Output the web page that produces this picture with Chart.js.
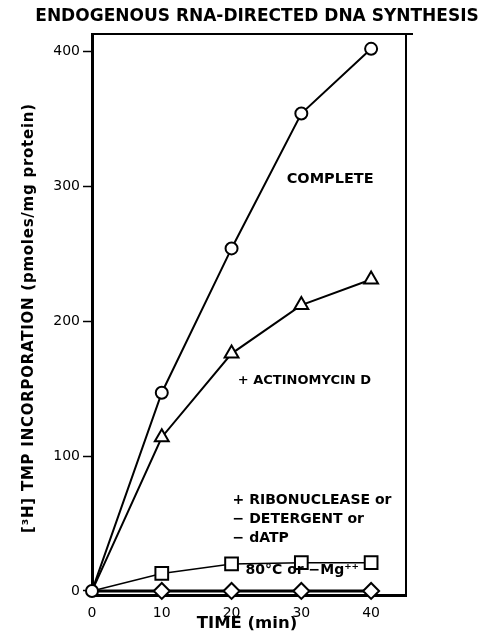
<!DOCTYPE html>
<html lang="en">
<head>
    <meta charset="UTF-8">
    <title>Endogenous RNA-directed DNA synthesis</title>
    <script src="https://cdn.jsdelivr.net/npm/chart.js"></script>
    <style>
        body { margin: 0; background: #fff; }
        #chart { display: block; }
    </style>
</head>
<body>
    <canvas id="chart" width="489" height="639"></canvas>
    <script>
        // time points (min)
        const times = [0, 10, 20, 30, 40];

        // [3H]TMP incorporation, pmoles/mg protein
        const complete = [0, 147, 254, 354, 402];
        const actinomycin = [0, 114, 176, 212, 231];
        const ribonuclease = [0, 13, 20, 21, 21];
        const heated = [0, 0, 0, 0, 0];

        const xTicks = [0, 10, 20, 30, 40];
        const yTicks = [0, 100, 200, 300, 400];

        const titleText = 'ENDOGENOUS RNA-DIRECTED DNA SYNTHESIS';
        const yTitle = '[³H] TMP INCORPORATION (pmoles/mg protein)';
        const xTitle = 'TIME (min)';

        function pts(ys) {
            return times.map((t, i) => ({ x: t, y: ys[i] }));
        }

        // the point at t=0 is only shown for the top (circle) series
        function series(ys, style, radius, width, hideFirst) {
            return {
                data: pts(ys),
                borderColor: '#000',
                backgroundColor: '#fff',
                borderWidth: width,
                pointStyle: style,
                pointRadius: times.map((t, i) => (hideFirst && i === 0) ? 0 : radius),
                pointBorderWidth: 2,
                pointBackgroundColor: '#fff',
                pointBorderColor: '#000',
                tension: 0,
                clip: false
            };
        }

        // text drawn on top: title, axis titles, curve labels, frame
        const textPlugin = {
            id: 'texts',
            afterDraw(chart) {
                const ctx = chart.ctx;
                const a = chart.chartArea;
                const x = chart.scales.x, y = chart.scales.y;
                ctx.save();
                ctx.fillStyle = '#000';
                ctx.strokeStyle = '#000';

                // top and right frame
                ctx.lineWidth = 2;
                ctx.beginPath();
                ctx.moveTo(a.left, a.top);
                ctx.lineTo(a.right + 7, a.top);
                ctx.moveTo(a.right, a.top);
                ctx.lineTo(a.right, a.bottom + 1);
                ctx.stroke();

                ctx.textAlign = 'center';
                ctx.textBaseline = 'middle';
                ctx.font = 'bold 17px "DejaVu Sans"';
                ctx.fillText(titleText, 257, 17);

                ctx.font = 'bold 16.5px "DejaVu Sans"';
                ctx.fillText(xTitle, 247, 624);

                ctx.save();
                ctx.translate(29, 318);
                ctx.rotate(-Math.PI / 2);
                ctx.font = 'bold 15px "DejaVu Sans"';
                ctx.letterSpacing = '0.75px';
                ctx.fillText(yTitle, 0, 0);
                ctx.restore();

                ctx.textAlign = 'left';
                ctx.font = 'bold 14.5px "DejaVu Sans"';
                ctx.fillText('COMPLETE', x.getPixelForValue(27.9), y.getPixelForValue(305));
                ctx.font = 'bold 13px "DejaVu Sans"';
                ctx.fillText('+ ACTINOMYCIN D', x.getPixelForValue(20.9), y.getPixelForValue(156));
                ctx.font = 'bold 14px "DejaVu Sans"';
                ctx.fillText('+ RIBONUCLEASE or', x.getPixelForValue(20.15), y.getPixelForValue(67));
                ctx.fillText('\u2212 DETERGENT or', x.getPixelForValue(20.15), y.getPixelForValue(53));
                ctx.fillText('\u2212 dATP', x.getPixelForValue(20.15), y.getPixelForValue(39));
                ctx.fillText('80°C or \u2212Mg⁺⁺', x.getPixelForValue(22), y.getPixelForValue(15));
                ctx.restore();
            }
        };

        const ctx = document.getElementById('chart').getContext('2d');
        const chart = new Chart(ctx, {
            type: 'line',
            data: {
                datasets: [
                    series(complete, 'circle', 6, 2, false),
                    series(actinomycin, 'triangle', 8, 2, true),
                    series(ribonuclease, 'rect', 9, 1.5, true),
                    series(heated, 'rectRot', 8, 3, true)
                ]
            },
            options: {
                responsive: false,
                animation: false,
                layout: { padding: { left: 0, right: 83, top: 34, bottom: 0 } },
                plugins: {
                    legend: { display: false },
                    tooltip: { enabled: false }
                },
                scales: {
                    x: {
                        type: 'linear',
                        min: 0,
                        max: 45,
                        afterFit(s) { s.height = 44; },
                        afterBuildTicks(s) { s.ticks = xTicks.map(v => ({ value: v })); },
                        grid: { drawOnChartArea: false, drawTicks: false },
                        border: { display: true, color: '#000', width: 3 },
                        ticks: {
                            color: '#000',
                            padding: 10,
                            maxRotation: 0,
                            font: { family: 'DejaVu Sans', size: 14 }
                        }
                    },
                    y: {
                        min: -3,
                        max: 413,
                        afterFit(s) { s.width = 92; },
                        afterBuildTicks(s) { s.ticks = yTicks.map(v => ({ value: v })); },
                        grid: { drawOnChartArea: false, drawTicks: true, tickLength: 9, color: '#000', tickWidth: 1.5 },
                        border: { display: true, color: '#000', width: 3 },
                        ticks: {
                            color: '#000',
                            padding: 3,
                            font: { family: 'DejaVu Sans', size: 14 }
                        }
                    }
                }
            },
            plugins: [textPlugin]
        });
    </script>
</body>
</html>
